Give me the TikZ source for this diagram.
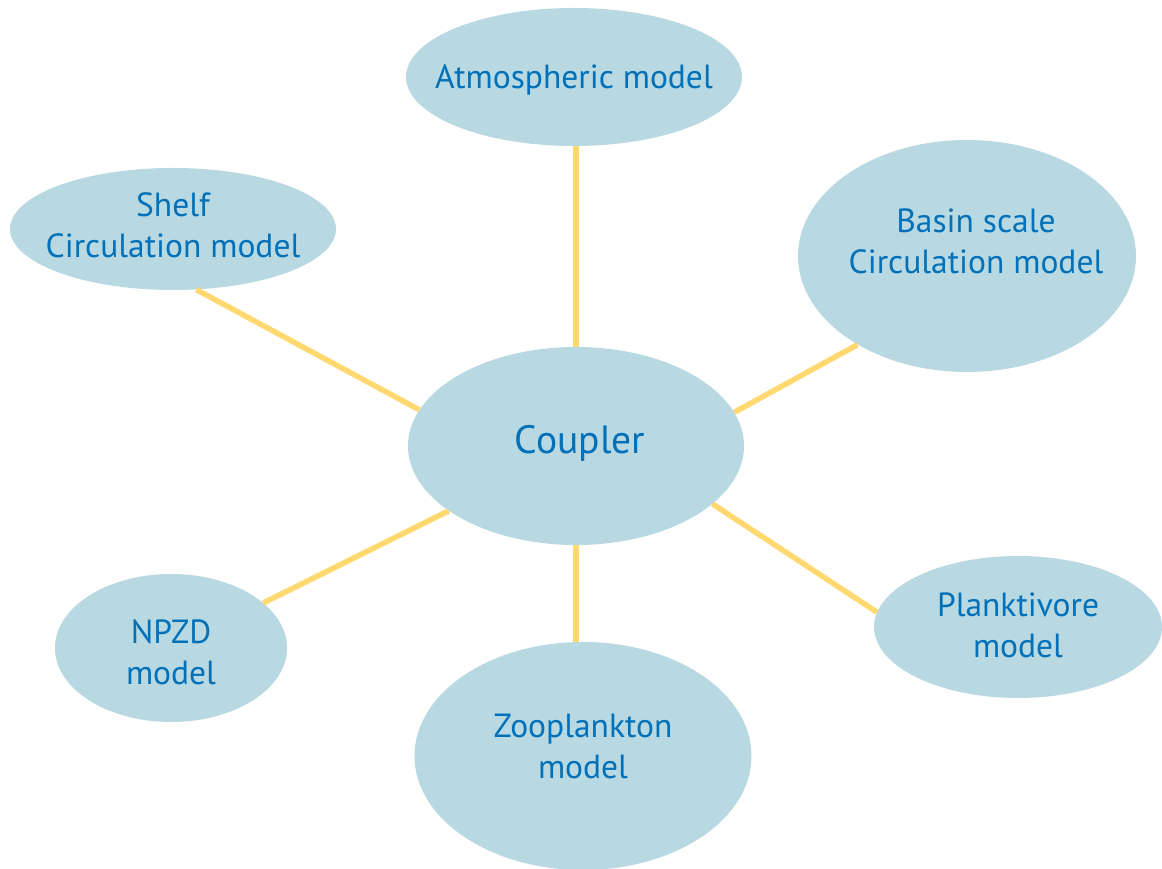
\documentclass[tikz,border=0pt]{standalone}
\usepackage{fontspec}
\setmainfont{PT Sans}
\usepackage{xcolor}
\usetikzlibrary{shapes,positioning,calc}
\definecolor{bubblefill}{RGB}{184,216,226}
\definecolor{bubbletext}{RGB}{0,112,184}
\definecolor{linkyellow}{RGB}{255,217,112}
\begin{document}
\begin{tikzpicture}[x=1pt,y=1pt,
    bubble/.style={ellipse,fill=bubblefill,inner sep=0pt},
    every label/.style={text=bubbletext,align=center,inner sep=0pt,
        font=\fontsize{33.5}{41}\selectfont},
    link/.style={draw=linkyellow,line width=5.5pt}]
    \useasboundingbox (0,0) rectangle (1162,869);

    % Coupler in the middle
    \node[bubble,minimum width=336,minimum height=198,
        label={[xshift=4,yshift=3,font=\fontsize{39.5}{44}\selectfont]center:Coupler}] (coupler) at (576,423) {};

    % Component models around it
    \node[bubble,minimum width=336,minimum height=138,
        label={[yshift=-3]center:Atmospheric model}] (atm) at (574,792) {};
    \node[bubble,minimum width=326,minimum height=122,
        label={[yshift=4]center:Shelf\\Circulation model}] (shelf) at (173,640) {};
    \node[bubble,minimum width=338,minimum height=232,
        label={[xshift=9,yshift=15]center:Basin scale\\Circulation model}] (basin) at (967,613) {};
    \node[bubble,minimum width=232,minimum height=148,
        label={[yshift=-4]center:NPZD\\model}] (npzd) at (171,221) {};
    \node[bubble,minimum width=337,minimum height=228,
        label={[yshift=10]center:Zooplankton\\model}] (zoo) at (583,113) {};
    \node[bubble,minimum width=288,minimum height=142,
        label={[yshift=2]center:Planktivore\\model}] (plank) at (1018,242) {};

    % Links to the coupler
    \draw[link] (coupler.north) -- (coupler.north |- atm.south);
    \draw[link] (coupler.167.9) -- (shelf.-69.3);
    \draw[link] (coupler.12.1) -- (basin.219.8);
    \draw[link] (coupler.207.1) -- (npzd.26.3);
    \draw[link] (coupler.south) -- (coupler.south |- zoo.north);
    \draw[link] (coupler.-23.5) -- (plank.174);
\end{tikzpicture}
\end{document}
